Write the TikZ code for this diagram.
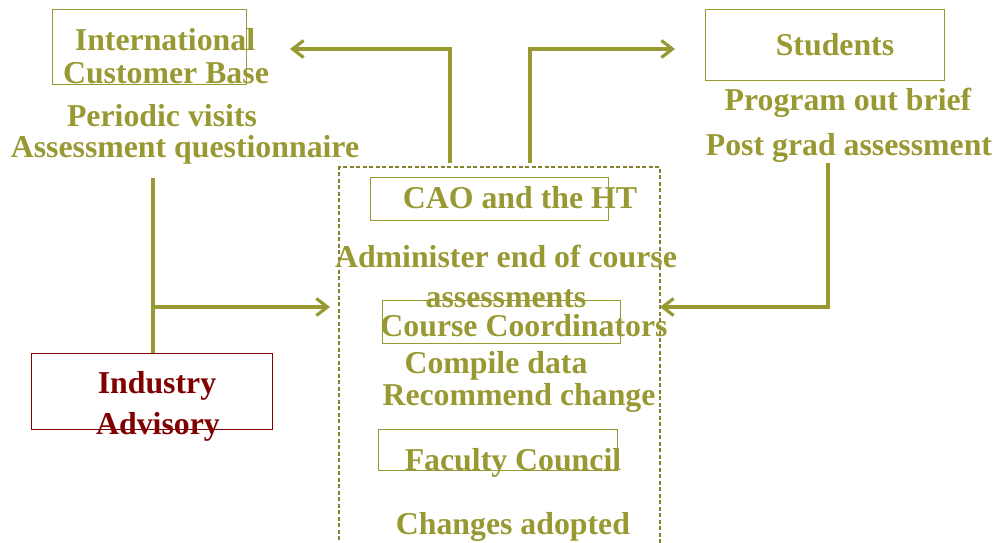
\documentclass[tikz,border=0pt]{standalone}
\usepackage{fontspec}
\setmainfont{Liberation Serif}
\usetikzlibrary{arrows.meta}
\definecolor{leaf}{RGB}{153,153,51}
\definecolor{advisoryred}{RGB}{128,0,0}
\begin{document}
\begin{tikzpicture}[x=1pt,y=-1pt,
  lbl/.style={font=\fontsize{31.8}{33}\selectfont\bfseries, text=leaf, anchor=base, inner sep=0pt},
  redlbl/.style={lbl, text=advisoryred},
  box/.style={draw=leaf, line width=1.2pt, inner sep=0pt, anchor=north west},
  redbox/.style={box, draw=advisoryred},
  unitbox/.style={draw=leaf!85!black, line width=2pt, dash pattern=on 4pt off 2.5pt, inner sep=0pt, anchor=north west},
  link/.style={draw=leaf, line width=3.2pt},
  flow/.style={link, -{Straight Barb[length=11pt,width=17pt]}}]
\useasboundingbox[fill=white] (0,0) rectangle (997,542);

% frames
\node[box, minimum width=194pt, minimum height=75pt] (icbbox) at (52,9) {};
\node[box, minimum width=239pt, minimum height=71pt] (stubox) at (705,9) {};
\node[unitbox, minimum width=321pt, minimum height=380pt] (unit) at (338,166) {};
\node[box, minimum width=238pt, minimum height=43pt] (caobox) at (370,177) {};
\node[box, minimum width=238pt, minimum height=43pt] (ccbox) at (382,300) {};
\node[box, minimum width=239pt, minimum height=41pt] (fcbox) at (378,429) {};
\node[redbox, minimum width=241pt, minimum height=76pt] (iabox) at (31,353) {};

% labels
\node[lbl] (icb1) at (165,50) {International};
\node[lbl] (icb2) at (166,83) {Customer Base};
\node[lbl] (pv) at (162,126) {Periodic visits};
\node[lbl] (aq) at (185,157) {Assessment questionnaire};
\node[lbl] (stu) at (835,55) {Students};
\node[lbl] (pob) at (848,110) {Program out brief};
\node[lbl] (pga) at (849,155) {Post grad assessment};
\node[lbl] (cao) at (520,208) {CAO and the HT};
\node[lbl] (adm1) at (506,267) {Administer end of course};
\node[lbl] (adm2) at (506,307) {assessments};
\node[lbl] (cc) at (524,336) {Course Coordinators};
\node[lbl] (cd) at (496,373) {Compile data};
\node[lbl] (rc) at (519,405) {Recommend change};
\node[lbl] (fc) at (513,470) {Faculty Council};
\node[lbl] (ca) at (513,534) {Changes adopted};
\node[redlbl] (ia1) at (157,393) {Industry};
\node[redlbl] (ia2) at (158,434) {Advisory};

% connector ends and bends
\coordinate (upL) at (450,163);
\coordinate (tipL) at (290,49);
\coordinate (upR) at (530,163);
\coordinate (tipR) at (675,49);
\coordinate (pgaFoot) at (828,163);
\coordinate (tipE) at (660,307);
\coordinate (aqFoot) at (153,178);
\coordinate (branch) at (153,307);
\coordinate (tipW) at (330,307);

% connectors
\draw[flow] (upL) |- (tipL);
\draw[flow] (upR) |- (tipR);
\draw[flow] (pgaFoot) |- (tipE);
\draw[link] (aqFoot) -- (iabox.north -| aqFoot);
\draw[flow] (branch) -- (tipW);
\end{tikzpicture}
\end{document}
